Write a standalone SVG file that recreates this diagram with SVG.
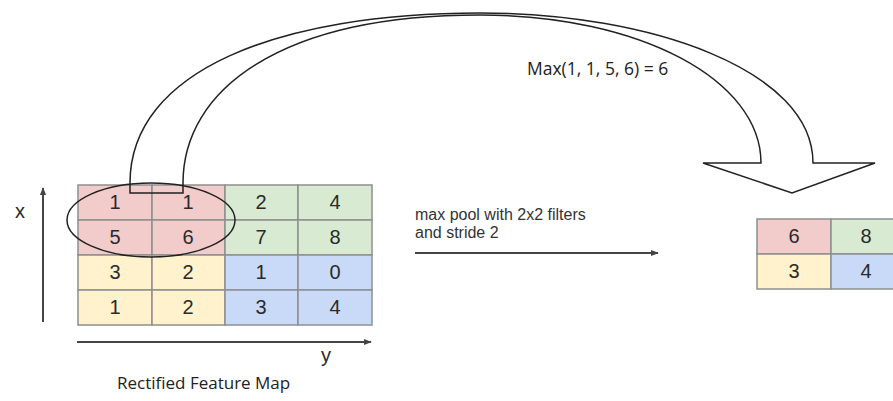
<svg xmlns="http://www.w3.org/2000/svg" width="893" height="401" viewBox="0 0 893 401">
<defs>
<style>
.cell{stroke:#8f8f8f;stroke-width:1.5}
.r{fill:#f2cbcb}.g{fill:#d9ead3}.yl{fill:#fff2cc}.b{fill:#c9daf8}
.num{font-family:"Liberation Sans",Arial,sans-serif;font-size:20px;fill:#2a2a2a;text-anchor:middle}
.lbl{font-family:"Liberation Sans",Arial,sans-serif;font-size:16px;fill:#333}
.hum{font-family:"Open Sans","DejaVu Sans",sans-serif;fill:#222}
.ax{stroke:#444;stroke-width:2;fill:none}
.big{stroke:#222;stroke-width:1.5;fill:none}
</style>
<marker id="ah" viewBox="0 0 10 10" refX="9" refY="5" markerWidth="4" markerHeight="4" orient="auto" markerUnits="strokeWidth">
<path d="M0,1 L10,5 L0,9 Z" fill="#444"/>
</marker>
</defs>
<rect width="893" height="401" fill="#fff"/>

<g id="input-map">
<rect class="cell r" x="78" y="185" width="74" height="35"/>
<rect class="cell r" x="152" y="185" width="73" height="35"/>
<rect class="cell g" x="225" y="185" width="73" height="35"/>
<rect class="cell g" x="298" y="185" width="74" height="35"/>
<rect class="cell r" x="78" y="220" width="74" height="35"/>
<rect class="cell r" x="152" y="220" width="73" height="35"/>
<rect class="cell g" x="225" y="220" width="73" height="35"/>
<rect class="cell g" x="298" y="220" width="74" height="35"/>
<rect class="cell yl" x="78" y="255" width="74" height="35"/>
<rect class="cell yl" x="152" y="255" width="73" height="35"/>
<rect class="cell b" x="225" y="255" width="73" height="35"/>
<rect class="cell b" x="298" y="255" width="74" height="35"/>
<rect class="cell yl" x="78" y="290" width="74" height="35"/>
<rect class="cell yl" x="152" y="290" width="73" height="35"/>
<rect class="cell b" x="225" y="290" width="73" height="35"/>
<rect class="cell b" x="298" y="290" width="74" height="35"/>
<text class="num" x="115" y="209">1</text>
<text class="num" x="188" y="209">1</text>
<text class="num" x="261" y="209">2</text>
<text class="num" x="335" y="209">4</text>
<text class="num" x="115" y="244">5</text>
<text class="num" x="188" y="244">6</text>
<text class="num" x="261" y="244">7</text>
<text class="num" x="335" y="244">8</text>
<text class="num" x="115" y="279">3</text>
<text class="num" x="188" y="279">2</text>
<text class="num" x="261" y="279">1</text>
<text class="num" x="335" y="279">0</text>
<text class="num" x="115" y="314">1</text>
<text class="num" x="188" y="314">2</text>
<text class="num" x="261" y="314">3</text>
<text class="num" x="335" y="314">4</text>
<ellipse cx="151" cy="220" rx="84" ry="37" fill="none" stroke="#222" stroke-width="1.5"/>
<text class="hum" x="117" y="389" font-size="17">Rectified Feature Map</text>
</g>

<g id="output-map">
<rect class="cell r" x="757" y="219" width="74" height="35"/>
<rect class="cell g" x="831" y="219" width="74" height="35"/>
<rect class="cell yl" x="757" y="254" width="74" height="35"/>
<rect class="cell b" x="831" y="254" width="74" height="35"/>
<text class="num" x="794" y="243">6</text>
<text class="num" x="866" y="243">8</text>
<text class="num" x="794" y="278">3</text>
<text class="num" x="866" y="278">4</text>
</g>

<g id="axes">
<line class="ax" x1="43" y1="322" x2="43" y2="188" marker-end="url(#ah)"/>
<text class="num" x="20" y="218">x</text>
<line class="ax" x1="77" y1="342" x2="371" y2="342" marker-end="url(#ah)"/>
<text class="num" x="326" y="362">y</text>
</g>

<g id="connectors">
<path class="big" d="M130,183 L130,193 L183,193 L183,183 C183,90 280,15 480,15 C640,15 761,80 761,163 L703,163 L792,193 L875,163 L813,163 C813,70 650,13 480,13 C280,13 130,70 130,183 Z"/>
<line class="ax" x1="415" y1="253" x2="658" y2="253" stroke-width="1.5" marker-end="url(#ah)"/>
</g>

<g id="labels">
<text class="hum" x="527" y="75" font-size="17.5">Max(1, 1, 5, 6) = 6</text>
<text class="lbl" x="415" y="220">max pool with 2x2 filters</text>
<text class="lbl" x="415" y="238">and stride 2</text>
</g>
</svg>
